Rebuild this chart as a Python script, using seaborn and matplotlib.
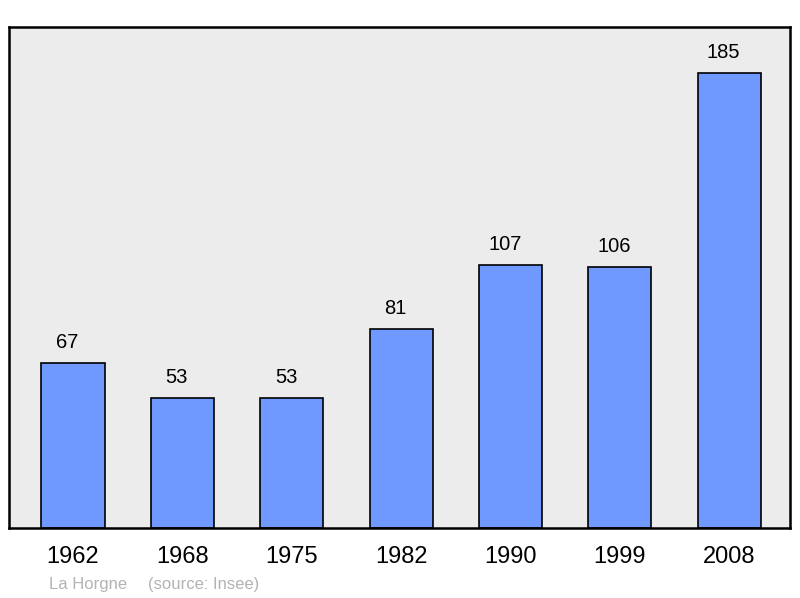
import matplotlib
matplotlib.use("Agg")
import matplotlib.pyplot as plt
import seaborn as sns
import pandas as pd

years = ["1962", "1968", "1975", "1982", "1990", "1999", "2008"]
population = [67, 53, 53, 81, 107, 106, 185]
commune = "La Horgne"
source = "(source: Insee)"

sns.set_style("white")
plt.rcParams['font.family'] = ['Liberation Sans', 'DejaVu Sans']

df = pd.DataFrame({"year": years, "pop": population})

fig = plt.figure(figsize=(8, 5.98), dpi=100)
ax = fig.add_axes([0.01125, 0.117, 0.97625, 0.8378])
ax.set_facecolor("#ececec")

sns.barplot(data=df, x="year", y="pop", order=years, color="#7099ff",
            saturation=1, edgecolor="black", linewidth=1.2, width=0.577, ax=ax)

for i, v in enumerate(population):
    ax.annotate(str(v), (i, v), xytext=(-4, 8), textcoords="offset points",
                ha="center", va="bottom", fontsize=14.5, color="black")

ax.set_xlim(-0.585, 6.555)
ax.set_ylim(0, 203.7)
ax.set_yticks([])
ax.set_xlabel("")
ax.set_ylabel("")
ax.tick_params(axis="x", length=0, labelsize=17, pad=13, labelcolor="black")
for s in ax.spines.values():
    s.set_visible(True)
    s.set_color("black")
    s.set_linewidth(1.8)

fig.text(49 / 800, 1 - 584 / 598, commune, fontsize=12, color="#b3b3b3", va="center", ha="left")
fig.text(148 / 800, 1 - 584 / 598, source, fontsize=12, color="#b3b3b3", va="center", ha="left")

fig.savefig("out.png", dpi=100, facecolor="white")
